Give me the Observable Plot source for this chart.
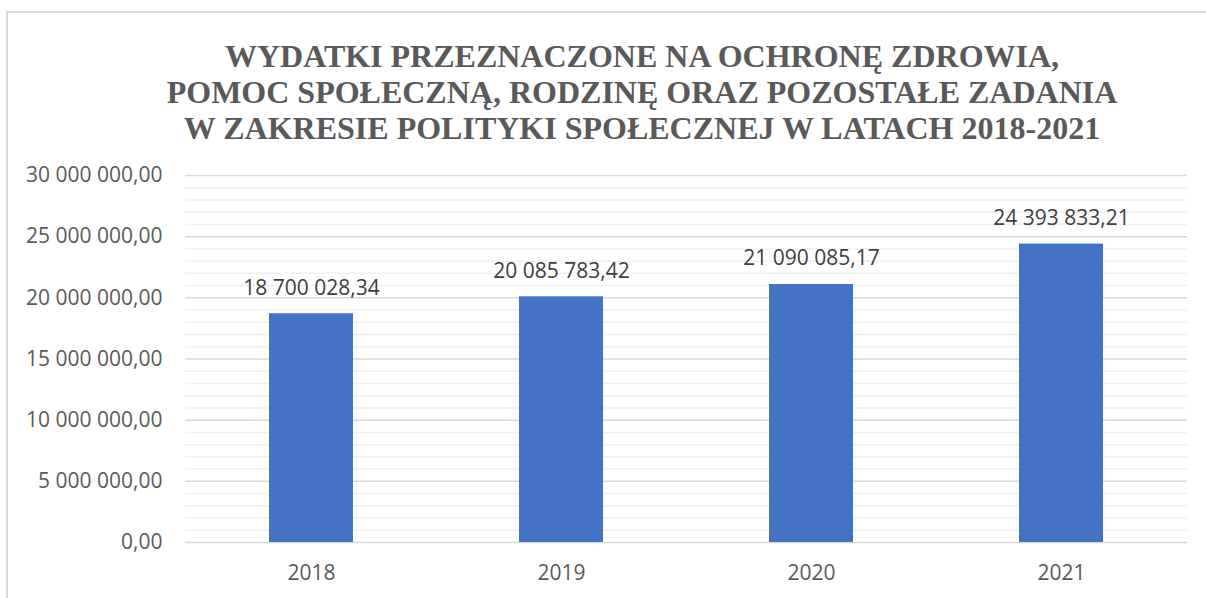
<!DOCTYPE html>
<html>
<head>
<meta charset="utf-8">
<script src="https://cdn.jsdelivr.net/npm/d3@7"></script>
<script src="https://cdn.jsdelivr.net/npm/@observablehq/plot@0.6"></script>
<style>
  html, body { margin: 0; padding: 0; background: #fff; overflow: hidden; width: 1206px; height: 598px; }
  #frame { position: absolute; left: 6px; top: 11px; width: 1400px; height: 800px; border: 2px solid #d9d9d9; box-sizing: border-box; }
  #title { position: absolute; left: 0; width: 1284px; top: 38px; text-align: center;
           font-family: "Liberation Serif", "Times New Roman", serif; font-weight: bold; font-size: 32px;
           line-height: 36px; color: #595959; white-space: nowrap; }
  #chart { position: absolute; left: 0; top: 150px; }
</style>
</head>
<body>
<div id="frame"></div>
<div id="title">WYDATKI PRZEZNACZONE NA OCHRONĘ ZDROWIA,<br>POMOC SPOŁECZNĄ, RODZINĘ ORAZ POZOSTAŁE ZADANIA<br>W ZAKRESIE POLITYKI SPOŁECZNEJ W LATACH 2018-2021</div>
<div id="chart"></div>
<script>
const years = ["2018", "2019", "2020", "2021"];
const values = [18700028.34, 20085783.42, 21090085.17, 24393833.21];
const majorTicks = [0, 5000000, 10000000, 15000000, 20000000, 25000000, 30000000];
const minorTicks = [1e6, 2e6, 3e6, 4e6, 6e6, 7e6, 8e6, 9e6, 11e6, 12e6, 13e6, 14e6, 16e6, 17e6, 18e6, 19e6, 21e6, 22e6, 23e6, 24e6, 26e6, 27e6, 28e6, 29e6];

const data = years.map((y, i) => ({year: y, value: values[i]}));
const pl = d3.formatLocale({decimal: ",", thousands: "\u00a0", grouping: [3], currency: ["", ""]});
const fmt = pl.format(",.2f");

const chart = Plot.plot({
  width: 1206,
  height: 448,
  marginTop: 25,
  marginBottom: 56,
  marginLeft: 185,
  marginRight: 19,
  style: {fontFamily: "'Open Sans', sans-serif", fontSize: "21px", color: "#595959", background: "transparent"},
  x: {domain: years, paddingInner: 0.665, paddingOuter: 0.3325, label: null, tickSize: 0, tickPadding: 23},
  y: {domain: [0, 30000000], ticks: majorTicks, tickFormat: fmt, label: null, tickSize: 0, tickPadding: 23},
  marks: [
    Plot.ruleY(minorTicks, {stroke: "#f0f0f0", strokeWidth: 1.5}),
    Plot.ruleY(majorTicks, {stroke: "#d9d9d9", strokeWidth: 1.5}),
    Plot.barY(data, {x: "year", y: "value", fill: "#4472C4"}),
    Plot.text(data, {x: "year", y: "value", text: d => fmt(d.value), dy: -19, lineAnchor: "bottom", fill: "#404040", fontSize: 21})
  ]
});
document.getElementById("chart").appendChild(chart);
</script>
</body>
</html>
